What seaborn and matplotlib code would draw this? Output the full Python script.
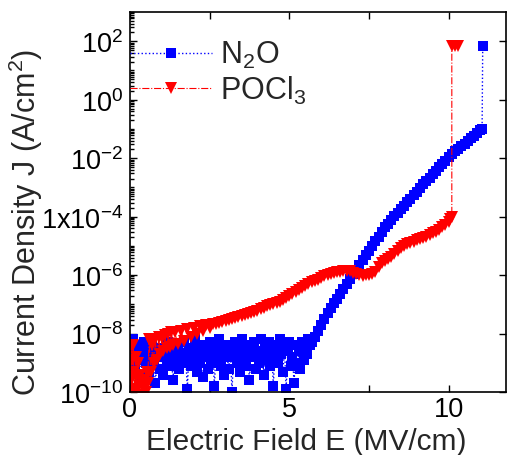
import numpy as np
import pandas as pd
import seaborn as sns
import matplotlib.pyplot as plt
from matplotlib.ticker import FixedLocator, LogLocator, NullFormatter

# ---- data (log10 of J in A/cm^2) ----
# N2O: noisy leakage floor, then Fowler-Nordheim like rise, then breakdown
n2o_e_noise = [round(0.05 * i, 2) for i in range(114)]
n2o_logj_noise = [
    -8.3, -8.6, -8.2, -9.1, -8.4, -8.8, -9.5, -8.5, -8.9, -8.3,
    -9.0, -8.6, -9.3, -8.7, -8.4, -9.0, -9.7, -8.8, -8.5, -9.2,
    -8.7, -9.4, -8.6, -8.9, -8.3, -9.1, -8.8, -9.6, -8.5, -8.9,
    -8.4, -9.2, -8.7, -9.0, -8.3, -8.8, -9.9, -8.6, -9.1, -8.5,
    -8.9, -8.2, -9.3, -8.7, -9.0, -8.4, -9.5, -8.8, -8.6, -9.2,
    -8.3, -9.0, -8.7, -9.8, -8.5, -8.9, -8.2, -9.1, -8.6, -9.4,
    -8.4, -8.8, -9.2, -8.5, -10.0, -8.7, -8.3, -9.0, -8.6, -9.3,
    -8.2, -8.9, -8.5, -9.1, -8.7, -9.6, -8.4, -8.8, -8.3, -9.2,
    -8.6, -9.0, -8.2, -8.7, -9.4, -8.5, -8.9, -8.3, -9.1, -8.6,
    -9.8, -8.4, -8.8, -9.0, -8.2, -8.7, -9.3, -8.5, -9.9, -8.6,
    -8.3, -9.1, -8.8, -9.7, -8.4, -9.0, -8.6, -9.2, -8.3, -8.9,
    -8.5, -8.7, -8.2, -8.4,
]
n2o_e_rise = [5.7, 5.8, 5.9, 6.0, 6.1, 6.2, 6.3, 6.4, 6.5, 6.6, 6.7, 6.8,
              6.9, 7.0, 7.1, 7.2, 7.3, 7.4, 7.5, 7.6, 7.7, 7.8, 7.9, 8.0,
              8.1, 8.2, 8.3, 8.4, 8.5, 8.6, 8.7, 8.8, 8.9, 9.0, 9.1, 9.2,
              9.3, 9.4, 9.5, 9.6, 9.7, 9.8, 9.9, 10.0, 10.1, 10.2, 10.3,
              10.4, 10.5, 10.6, 10.7, 10.8, 10.9, 11.0, 11.05, 11.07]
n2o_logj_rise = [-8.3, -8.1, -7.9, -7.7, -7.5, -7.3, -7.13, -6.96, -6.8,
                 -6.63, -6.47, -6.3, -6.13, -5.97, -5.81, -5.65, -5.48,
                 -5.32, -5.16, -5.0, -4.84, -4.68, -4.52, -4.37, -4.24,
                 -4.12, -3.99, -3.86, -3.74, -3.62, -3.5, -3.38, -3.26,
                 -3.14, -3.02, -2.9, -2.79, -2.67, -2.55, -2.43, -2.31,
                 -2.2, -2.08, -1.97, -1.87, -1.77, -1.68, -1.59, -1.5,
                 -1.41, -1.32, -1.23, -1.14, -1.05, -1.0, 1.85]

# POCl3: noisy start, scattered rise, slow growth with shoulders, breakdown
pocl3_e_noise = [round(0.025 * i, 3) for i in range(23)]
pocl3_logj_noise = [-8.5, -9.6, -8.9, -9.9, -8.4, -9.3, -10.0, -8.8, -9.5,
                    -10.2, -9.0, -9.8, -10.3, -9.4, -10.1, -9.7, -10.3,
                    -9.9, -10.2, -9.6, -10.0, -9.3, -9.7]
pocl3_e_scatter = [0.6, 0.65, 0.7, 0.75, 0.8, 0.85, 0.9, 0.95, 1.0, 1.05,
                   1.1, 1.15, 1.2, 1.25, 1.3, 1.35, 1.4, 1.5, 1.6, 1.7, 1.8,
                   1.9, 2.0, 2.1, 2.2, 2.3, 2.4, 2.5, 2.6]
pocl3_logj_scatter = [-8.2, -9.3, -8.4, -9.0, -8.2, -8.9, -8.1, -8.7, -8.15,
                      -8.6, -8.05, -8.5, -8.0, -8.45, -7.95, -8.4, -7.95,
                      -8.35, -7.9, -8.25, -7.85, -8.1, -7.8, -8.0, -7.75,
                      -7.9, -7.7, -7.8, -7.68]
pocl3_e_smooth = [2.7, 2.8, 2.9, 3.0, 3.1, 3.2, 3.3, 3.4, 3.5, 3.6, 3.7, 3.8,
                  3.9, 4.0, 4.1, 4.2, 4.3, 4.4, 4.5, 4.6, 4.7, 4.8, 4.9, 5.0,
                  5.1, 5.2, 5.3, 5.4, 5.5, 5.6, 5.7, 5.8, 5.9, 6.0, 6.1, 6.2,
                  6.3, 6.4, 6.5, 6.6, 6.7, 6.8, 6.9, 7.0, 7.1, 7.2, 7.3, 7.4,
                  7.5, 7.6, 7.7, 7.8, 7.9, 8.0, 8.1, 8.2, 8.3, 8.4, 8.5, 8.6,
                  8.7, 8.8, 8.9, 9.0, 9.1, 9.2, 9.3, 9.4, 9.5, 9.6, 9.7, 9.8,
                  9.9, 10.0, 10.05, 10.1, 10.1, 10.2, 10.3]
pocl3_logj_smooth = [-7.66, -7.63, -7.6, -7.57, -7.54, -7.5, -7.47, -7.44,
                     -7.4, -7.37, -7.33, -7.3, -7.27, -7.22, -7.17, -7.12,
                     -7.06, -7.02, -6.98, -6.95, -6.92, -6.86, -6.78, -6.7,
                     -6.63, -6.57, -6.51, -6.45, -6.38, -6.31, -6.25, -6.2,
                     -6.15, -6.1, -6.04, -5.98, -5.95, -5.93, -5.91, -5.89,
                     -5.86, -5.85, -5.87, -5.92, -5.97, -6.0, -6.02, -6.01,
                     -5.99, -5.95, -5.88, -5.72, -5.57, -5.5, -5.45, -5.38,
                     -5.28, -5.17, -5.07, -4.99, -4.93, -4.89, -4.85, -4.81,
                     -4.78, -4.74, -4.68, -4.62, -4.56, -4.51, -4.45, -4.37,
                     -4.28, -4.17, -4.08, -4.0, 1.85, 1.85, 1.85]

y_tick_vals = [1e-10, 1e-8, 1e-6, 1e-4, 1e-2, 1e0, 1e2]
y_tick_labels = [r'$10^{-10}$', r'$10^{-8}$', r'$10^{-6}$', r'$1$x$10^{-4}$',
                 r'$10^{-2}$', r'$10^{0}$', r'$10^{2}$']
x_tick_vals = [0, 2.5, 5, 7.5, 10]
x_tick_labels = ['0', '', '5', '', '10']

n2o = pd.DataFrame({'E': n2o_e_noise + n2o_e_rise,
                    'J': 10 ** np.array(n2o_logj_noise + n2o_logj_rise)})
pocl3 = pd.DataFrame({'E': pocl3_e_noise + pocl3_e_scatter + pocl3_e_smooth,
                      'J': 10 ** np.array(pocl3_logj_noise + pocl3_logj_scatter
                                          + pocl3_logj_smooth)})

sns.set_style('ticks')
plt.rcParams['font.family'] = ['Liberation Sans', 'DejaVu Sans']
plt.rcParams['mathtext.fontset'] = 'custom'
plt.rcParams['mathtext.rm'] = 'Liberation Sans'
plt.rcParams['mathtext.it'] = 'Liberation Sans'
plt.rcParams['mathtext.default'] = 'regular'

fig = plt.figure(figsize=(5.07, 4.56), dpi=100)
ax = fig.add_axes([0.2564, 0.138, 0.7416, 0.8335])

sns.lineplot(data=n2o, x='E', y='J', ax=ax, sort=False, estimator=None,
             color='#0000ff', linestyle=':', linewidth=1, marker='s',
             markersize=7, markeredgewidth=0, markeredgecolor='#0000ff',
             label='N$_2$O')
sns.lineplot(data=pocl3, x='E', y='J', ax=ax, sort=False, estimator=None,
             color='#ff0000', linestyle='-.', linewidth=0.8, marker='v',
             markersize=9, markeredgewidth=0, markeredgecolor='#ff0000',
             label='POCl$_3$')

ax.set_yscale('log')
ax.set_xlim(0, 11.8)
ax.set_ylim(1e-10, 1e3)
ax.yaxis.set_major_locator(FixedLocator(y_tick_vals))
ax.set_yticklabels(y_tick_labels)
ax.yaxis.set_minor_locator(LogLocator(base=10, subs=np.arange(1, 10), numticks=30))
ax.yaxis.set_minor_formatter(NullFormatter())
ax.set_xticks(x_tick_vals)
ax.set_xticklabels(x_tick_labels)

for s in ax.spines.values():
    s.set_linewidth(1.2)
    s.set_color('black')
ax.tick_params(which='both', direction='in', top=True, right=True,
               labelsize=19.5, width=1, colors='black', pad=5)
ax.tick_params(axis='x', pad=3)
ax.tick_params(which='major', length=5)
ax.tick_params(which='minor', length=3, right=False)

ax.set_xlabel('Electric Field E (MV/cm)', fontsize=21.5)
ax.xaxis.set_label_coords(0.47, -0.092)
ax.set_ylabel('Current Density J (A/cm$^2$)', fontsize=22)
ax.yaxis.set_label_coords(-0.225, 0.45)

ax.legend(loc='upper left', bbox_to_anchor=(0.0, 0.928), frameon=False,
          fontsize=22, handlelength=2.7, handletextpad=0.26, borderpad=0,
          borderaxespad=0, labelspacing=0.1, numpoints=1)

fig.savefig('out.png', dpi=100)
